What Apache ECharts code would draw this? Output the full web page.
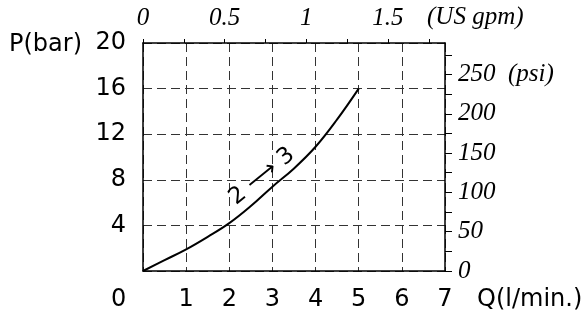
<!DOCTYPE html>
<html>
<head>
<meta charset="utf-8">
<script src="https://cdn.jsdelivr.net/npm/echarts@6/dist/echarts.min.js"></script>
<style>html,body{margin:0;padding:0;background:#fff;}#c{width:585px;height:320px;}</style>
</head>
<body>
<div id="c"></div>
<script>
// Data
const flowLpm = [0, 0.5, 1, 1.5, 2, 2.5, 3, 3.5, 4, 4.5, 5];
const pressureBar = [0, 0.95, 1.9, 3.0, 4.2, 5.7, 7.4, 9.0, 10.9, 13.3, 16];
const xTickLabels = ['1', '2', '3', '4', '5', '6', '7'];
const yTickLabels = ['4', '8', '12', '16', '20'];
const gpmTickLabels = ['0', '0.5', '1', '1.5'];
const psiTickLabels = ['0', '50', '100', '150', '200', '250'];
const curveLabel = '2 \u27F6 3';
const labelAt = [2.76, 8.3];

const LPM_PER_GPM = 3.78541;
const PSI_PER_BAR = 14.5038;

const sans = 'DejaVu Sans';
const serif = 'Liberation Serif';
const sansStyle = {fontFamily: sans, fontSize: 24, color: '#000'};
const serifStyle = {fontFamily: serif, fontStyle: 'italic', fontSize: 25, color: '#000'};
const axisLine = {show: true, onZero: false, lineStyle: {color: '#000', width: 1.5}};
const dashed = {show: true, lineStyle: {color: '#333', width: 1, type: [9, 5]}};

const chart = echarts.init(document.getElementById('c'));
chart.setOption({
  animation: false,
  backgroundColor: '#fff',
  grid: {left: 143, right: 140, top: 43, bottom: 49, containLabel: false},
  xAxis: [{
    type: 'value', position: 'bottom', min: 0, max: 7, interval: 1,
    axisLine: axisLine, axisTick: {show: false},
    splitLine: dashed,
    axisLabel: Object.assign({margin: 17, formatter: v => xTickLabels.includes(String(v)) ? String(v) : ''}, sansStyle)
  }, {
    type: 'value', position: 'top', min: 0, max: 7 / LPM_PER_GPM, interval: 0.25,
    axisLine: axisLine, axisTick: {show: true, inside: false, length: 4, lineStyle: {color: '#000', width: 1}},
    splitLine: {show: false},
    axisLabel: Object.assign({margin: 12, showMaxLabel: false, formatter: v => {
      const s = String(Math.round(v * 100) / 100);
      return gpmTickLabels.includes(s) ? s : '';
    }}, serifStyle)
  }],
  yAxis: [{
    type: 'value', position: 'left', min: 0, max: 20, interval: 4,
    axisLine: axisLine, axisTick: {show: false},
    splitLine: dashed,
    axisLabel: Object.assign({margin: 17, formatter: v => yTickLabels.includes(String(v)) ? String(v) : ''}, sansStyle)
  }, {
    type: 'value', position: 'right', min: 0, max: 20 * PSI_PER_BAR, interval: 25,
    axisLine: axisLine, axisTick: {show: true, inside: false, length: 7, lineStyle: {color: '#000', width: 1}},
    splitLine: {show: false},
    axisLabel: Object.assign({margin: 13, showMaxLabel: false, formatter: v => {
      const s = String(Math.round(v));
      if (!psiTickLabels.includes(s)) return '';
      return s === '250' ? s + '  (psi)' : s;
    }}, serifStyle)
  }],
  series: [{
    type: 'line', xAxisIndex: 0, yAxisIndex: 0,
    data: flowLpm.map((q, i) => [q, pressureBar[i]]),
    smooth: 0.4, showSymbol: false, symbol: 'none',
    lineStyle: {color: '#000', width: 2},
    markPoint: {
      symbol: 'circle', symbolSize: 0,
      data: [{coord: labelAt}],
      label: {show: true, position: 'inside', rotate: 39, formatter: curveLabel,
        fontFamily: sans, fontSize: 23, color: '#000'}
    }
  }],
  graphic: [
    {type: 'text', left: 9, top: 33, style: {text: 'P(bar)', font: '24px "DejaVu Sans"', fill: '#000'}},
    {type: 'text', left: 111, top: 288, style: {text: '0', font: '24px "DejaVu Sans"', fill: '#000'}},
    {type: 'text', left: 477, top: 288, style: {text: 'Q(l/min.)', font: '24px "DejaVu Sans"', fill: '#000'}},
    {type: 'text', left: 427, top: 5, style: {text: '(US gpm)', font: 'italic 25px "Liberation Serif"', fill: '#000'}}
  ]
});
</script>
</body>
</html>
